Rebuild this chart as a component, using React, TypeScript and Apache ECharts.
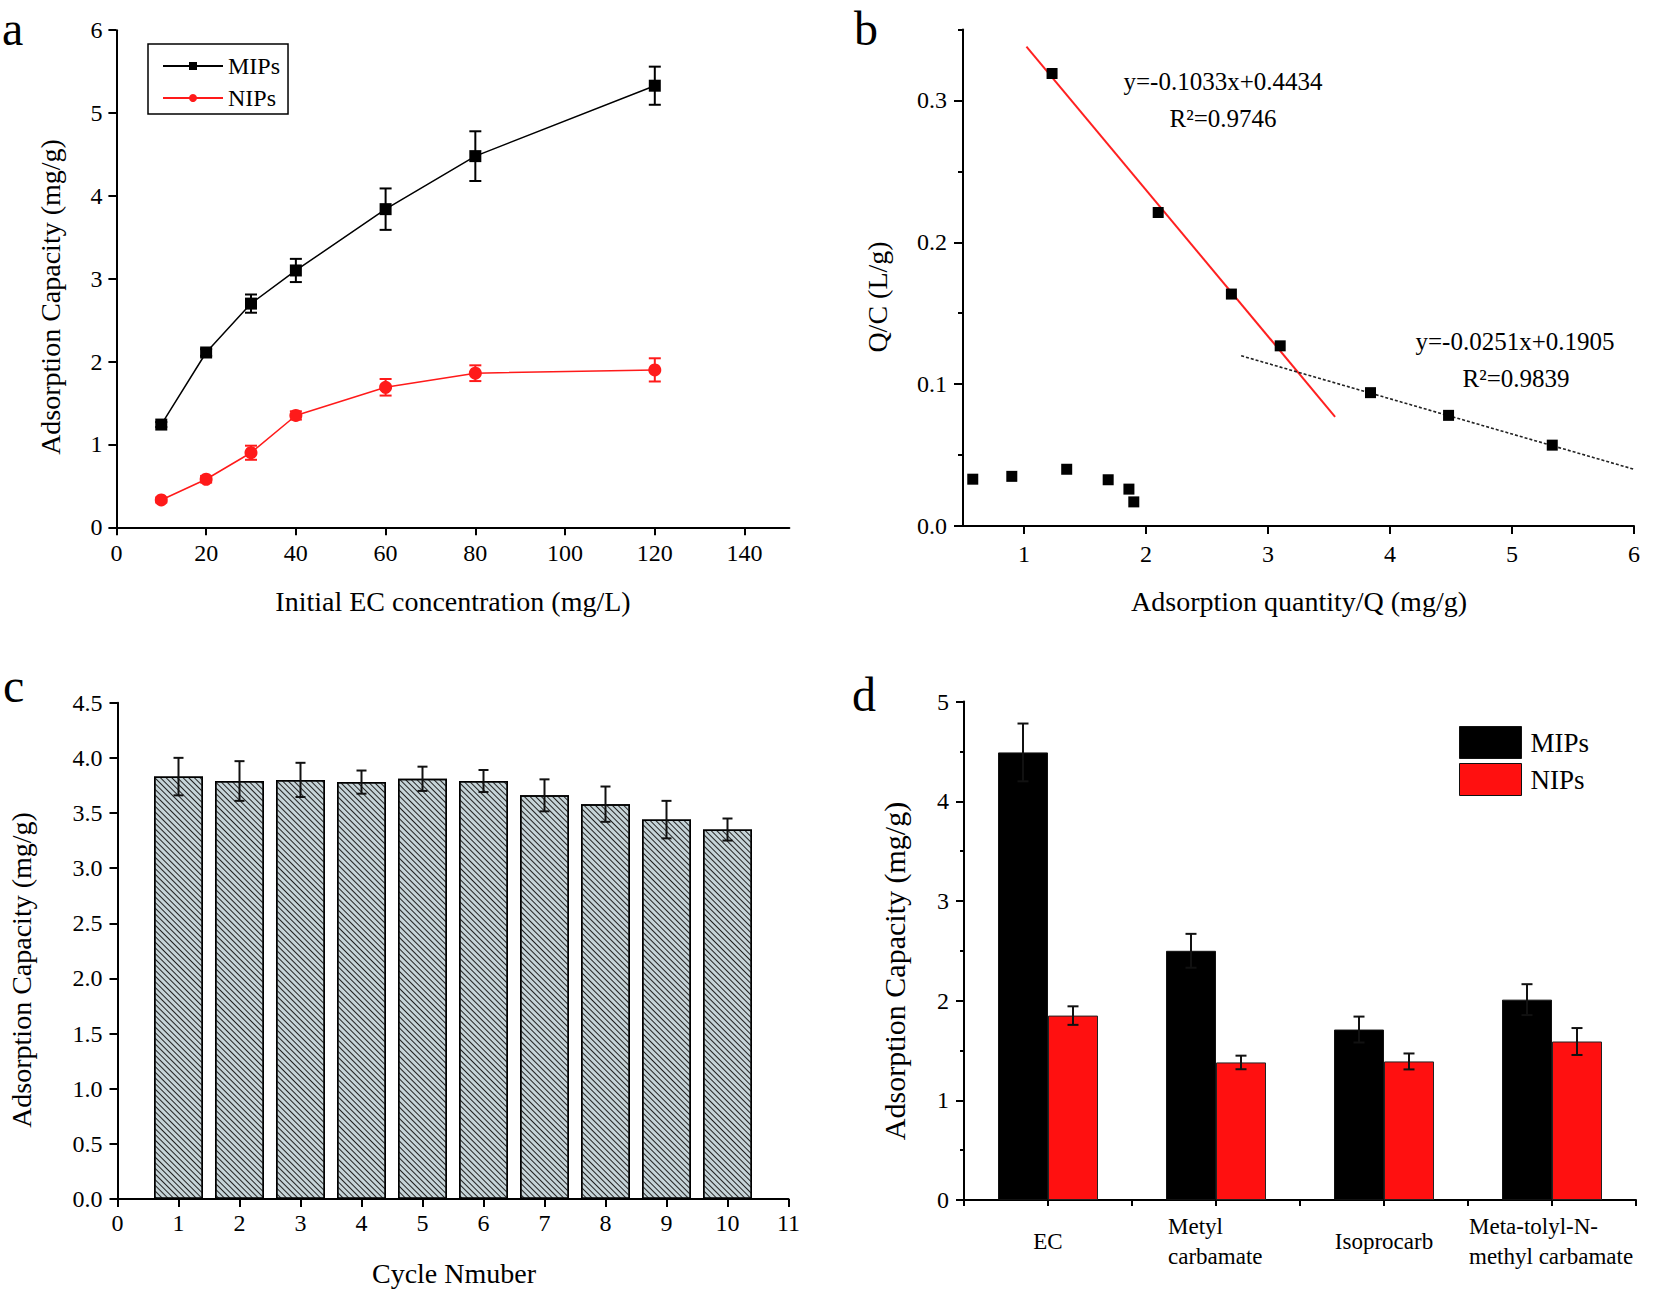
import React, { useEffect, useRef } from 'react';
import * as echarts from 'echarts';

const FONT = '"Liberation Serif", "Times New Roman", serif';

// ---------- Panel a ----------
const concX = [10, 20, 30, 40, 60, 80, 120];
const mipsCap = [1.24, 2.11, 2.7, 3.1, 3.84, 4.48, 5.33];
const mipsCapErr = [0.03, 0.04, 0.11, 0.14, 0.25, 0.3, 0.23];
const nipsCap = [0.33, 0.58, 0.9, 1.35, 1.69, 1.86, 1.9];
const nipsCapErr = [0.03, 0.04, 0.085, 0.05, 0.1, 0.095, 0.14];
const concTicks = [0, 20, 40, 60, 80, 100, 120, 140];

// ---------- Panel b ----------
const scatQ = [1.23, 2.1, 2.7, 3.1, 3.84, 4.48, 5.33, 0.58, 0.9, 1.35, 1.69, 1.86, 1.9];
const scatQC = [0.319, 0.221, 0.1635, 0.127, 0.094, 0.078, 0.057, 0.033, 0.035, 0.04, 0.0326, 0.026, 0.017];
const fitSteep = [[1.02, 0.338], [3.55, 0.077]];
const fitShallow = [[2.78, 0.12], [6.0, 0.04]];
const qTicks = [1, 2, 3, 4, 5, 6];
const qcMajorTicks = [0, 0.1, 0.2, 0.3];
const qcMinorTicks = [0.05, 0.15, 0.25, 0.35];

// ---------- Panel c ----------
const cycles = [1, 2, 3, 4, 5, 6, 7, 8, 9, 10];
const cycleCap = [3.83, 3.79, 3.8, 3.78, 3.81, 3.79, 3.66, 3.58, 3.44, 3.35];
const cycleErr = [0.17, 0.18, 0.155, 0.105, 0.11, 0.1, 0.145, 0.16, 0.17, 0.1];

// ---------- Panel d ----------
const compounds = ['EC', 'Metyl\ncarbamate', 'Isoprocarb', 'Meta-tolyl-N-\nmethyl carbamate'];
const mipsSel = [4.49, 2.5, 1.71, 2.01];
const mipsSelErr = [0.29, 0.17, 0.13, 0.155];
const nipsSel = [1.85, 1.38, 1.39, 1.59];
const nipsSelErr = [0.093, 0.068, 0.08, 0.135];

const BLACK = '#000';
const RED = '#ff1a1a';

function makeErrRender(color: string, capHalf: number, dx = 0) {
  return (_params: any, api: any) => {
    const x = api.value(0);
    const lo = api.value(1);
    const hi = api.value(2);
    const a = api.coord([x, lo]);
    const b = api.coord([x, hi]);
    const cx = a[0] + dx;
    const st = { stroke: color, lineWidth: 2 };
    return {
      type: 'group',
      children: [
        { type: 'line', shape: { x1: cx, y1: a[1], x2: cx, y2: b[1] }, style: st },
        { type: 'line', shape: { x1: cx - capHalf, y1: b[1], x2: cx + capHalf, y2: b[1] }, style: st },
        { type: 'line', shape: { x1: cx - capHalf, y1: a[1], x2: cx + capHalf, y2: a[1] }, style: st },
      ],
    };
  };
}

const axisLine = { show: true, onZero: false, lineStyle: { color: BLACK, width: 2 } };
const tick = (len: number, extra: any = {}) => ({ show: true, length: len, lineStyle: { color: BLACK, width: 2 }, ...extra });
const lab = (margin: number, extra: any = {}) => ({ fontSize: 24, color: BLACK, fontFamily: FONT, margin, ...extra });

function txt(text: string, x: number, y: number, fontSize: number, opts: any = {}) {
  return {
    type: 'text',
    x,
    y,
    rotation: opts.rotation || 0,
    style: {
      text,
      fontSize,
      fontFamily: FONT,
      fill: '#000',
      align: opts.align || 'center',
      verticalAlign: 'middle',
      textAlign: opts.align || 'center',
      textVerticalAlign: 'middle',
    },
  };
}

const catRich: any = {
  w1: { width: 96, align: 'left', fontSize: 23, lineHeight: 30, fontFamily: FONT, color: BLACK },
  w3: { width: 166, align: 'left', fontSize: 23, lineHeight: 30, fontFamily: FONT, color: BLACK },
};

export default function App() {
  const ref = useRef<HTMLDivElement>(null);
  useEffect(() => {
    if (!ref.current) return;
    const chart = echarts.init(ref.current, null, { renderer: 'svg' });
    const option: any = {
      animation: false,
      backgroundColor: '#fff',
      textStyle: { fontFamily: FONT },
      grid: [
        { left: 116.4, top: 30.2, width: 673, height: 497.1 },
        { left: 963, top: 29.5, width: 671, height: 496.5 },
        { left: 117.5, top: 702.7, width: 671, height: 496.3 },
        { left: 964, top: 701.6, width: 672, height: 498.4 },
      ],
      xAxis: [
        {
          gridIndex: 0, type: 'value', min: 0, max: 150, interval: 10,
          axisLine, axisTick: tick(8, { customValues: concTicks }),
          axisLabel: lab(14, { customValues: concTicks }), splitLine: { show: false },
        },
        {
          gridIndex: 1, type: 'value', min: 0.5, max: 6, interval: 0.5,
          axisLine, axisTick: tick(8, { customValues: qTicks }),
          axisLabel: lab(16, { customValues: qTicks }), splitLine: { show: false },
        },
        {
          gridIndex: 2, type: 'value', min: 0, max: 11, interval: 1,
          axisLine, axisTick: tick(8), axisLabel: lab(12), splitLine: { show: false },
        },
        {
          gridIndex: 3, type: 'category', data: compounds, position: 'bottom',
          axisLine, axisTick: tick(6, { interval: 0 }),
          axisLabel: lab(41, {
            interval: 0, fontSize: 23, lineHeight: 30, verticalAlign: 'middle',
            formatter: (v: string, idx: number) =>
              v.indexOf('\n') >= 0 ? v.split('\n').map((l) => `{w${idx}|${l}}`).join('\n') : v,
            rich: catRich,
          }),
          splitLine: { show: false },
        },
        {
          gridIndex: 3, type: 'category', data: compounds, position: 'bottom',
          axisLine: { show: false }, axisTick: tick(6, { interval: 0, alignWithLabel: true }),
          axisLabel: { show: false }, splitLine: { show: false },
        },
      ],
      yAxis: [
        {
          gridIndex: 0, type: 'value', min: 0, max: 6, interval: 1,
          axisLine, axisTick: tick(8), axisLabel: lab(14), splitLine: { show: false },
        },
        {
          gridIndex: 1, type: 'value', min: 0, max: 0.35, interval: 0.05, position: 'left',
          axisLine, axisTick: tick(9, { customValues: qcMajorTicks }),
          axisLabel: lab(16, { customValues: qcMajorTicks, formatter: (v: number) => v.toFixed(1) }),
          splitLine: { show: false },
        },
        {
          gridIndex: 1, type: 'value', min: 0, max: 0.35, interval: 0.05, position: 'left',
          axisLine: { show: false }, axisTick: tick(5, { customValues: qcMinorTicks }),
          axisLabel: { show: false }, splitLine: { show: false },
        },
        {
          gridIndex: 2, type: 'value', min: 0, max: 4.5, interval: 0.5,
          axisLine, axisTick: tick(8),
          axisLabel: lab(15, { formatter: (v: number) => v.toFixed(1) }), splitLine: { show: false },
        },
        {
          gridIndex: 3, type: 'value', min: 0, max: 5, interval: 1,
          axisLine, axisTick: tick(8),
          minorTick: { show: true, splitNumber: 2, length: 4, lineStyle: { color: BLACK, width: 2 } },
          axisLabel: lab(15), splitLine: { show: false }, minorSplitLine: { show: false },
        },
      ],
      legend: [
        {
          orient: 'vertical', left: 148, top: 44, data: ['MIPs', 'NIPs'],
          itemWidth: 60, itemHeight: 10, itemGap: 4, padding: [8, 8, 2, 14],
          borderColor: '#000', borderWidth: 1.5, selectedMode: false,
          textStyle: { fontSize: 24, lineHeight: 28, fontFamily: FONT, color: '#000' },
        },
        {
          orient: 'vertical', left: 1459, top: 726, data: ['MIPs (d)', 'NIPs (d)'],
          formatter: (n: string) => n.replace(' (d)', ''),
          icon: 'rect', itemWidth: 62, itemHeight: 32, itemGap: 4, padding: 0, selectedMode: false,
          itemStyle: { borderColor: '#111', borderWidth: 1 },
          textStyle: { fontSize: 27, lineHeight: 32, fontFamily: FONT, color: '#000', padding: [0, 0, 0, 4] },
        },
      ],
      series: [
        // Panel a
        {
          type: 'custom', name: 'errMIPsA', xAxisIndex: 0, yAxisIndex: 0, z: 2,
          renderItem: makeErrRender(BLACK, 6),
          data: concX.map((x, i) => [x, mipsCap[i] - mipsCapErr[i], mipsCap[i] + mipsCapErr[i]]),
        },
        {
          type: 'custom', name: 'errNIPsA', xAxisIndex: 0, yAxisIndex: 0, z: 2,
          renderItem: makeErrRender(RED, 6),
          data: concX.map((x, i) => [x, nipsCap[i] - nipsCapErr[i], nipsCap[i] + nipsCapErr[i]]),
        },
        {
          type: 'line', name: 'MIPs', xAxisIndex: 0, yAxisIndex: 0, z: 3,
          data: concX.map((x, i) => [x, mipsCap[i]]),
          symbol: 'rect', symbolSize: 12, itemStyle: { color: BLACK },
          lineStyle: { color: BLACK, width: 1.5 },
        },
        {
          type: 'line', name: 'NIPs', xAxisIndex: 0, yAxisIndex: 0, z: 3,
          data: concX.map((x, i) => [x, nipsCap[i]]),
          symbol: 'circle', symbolSize: 13, itemStyle: { color: RED },
          lineStyle: { color: RED, width: 1.5 },
        },
        // Panel b
        {
          type: 'line', name: 'fitSteep', xAxisIndex: 1, yAxisIndex: 1, data: fitSteep,
          symbol: 'none', lineStyle: { color: '#ff2020', width: 2 }, z: 2,
        },
        {
          type: 'line', name: 'fitShallow', xAxisIndex: 1, yAxisIndex: 1, data: fitShallow,
          symbol: 'none', lineStyle: { color: '#222', width: 1.6, type: [3, 2] }, z: 2,
        },
        {
          type: 'scatter', name: 'QC', xAxisIndex: 1, yAxisIndex: 1, z: 3,
          data: scatQ.map((q, i) => [q, scatQC[i]]),
          symbol: 'rect', symbolSize: 11, itemStyle: { color: BLACK, opacity: 1 },
        },
        // Panel c
        {
          type: 'bar', name: 'cycle', xAxisIndex: 2, yAxisIndex: 3, barWidth: 49,
          data: cycles.map((c, i) => [c, cycleCap[i]]),
          itemStyle: {
            color: '#c6d4d8', borderColor: BLACK, borderWidth: 1.5,
            decal: {
              symbol: 'rect', symbolSize: 1, color: '#222',
              dashArrayX: [1, 0], dashArrayY: [1, 2.2], rotation: Math.PI / 4,
            },
          },
        },
        {
          type: 'custom', name: 'errCycle', xAxisIndex: 2, yAxisIndex: 3, z: 5,
          renderItem: makeErrRender('#111', 5),
          data: cycles.map((c, i) => [c, cycleCap[i] - cycleErr[i], cycleCap[i] + cycleErr[i]]),
        },
        // Panel d
        {
          type: 'bar', name: 'MIPs (d)', xAxisIndex: 3, yAxisIndex: 4, barWidth: 50, barGap: '0%',
          data: mipsSel, itemStyle: { color: BLACK, borderColor: '#111', borderWidth: 1 },
        },
        {
          type: 'bar', name: 'NIPs (d)', xAxisIndex: 3, yAxisIndex: 4, barWidth: 50, barGap: '0%',
          data: nipsSel, itemStyle: { color: '#ff1010', borderColor: '#222', borderWidth: 1 },
        },
        {
          type: 'custom', name: 'errMIPsD', xAxisIndex: 3, yAxisIndex: 4, z: 5,
          renderItem: makeErrRender('#111', 5.5, -25),
          data: compounds.map((_c, i) => [i, mipsSel[i] - mipsSelErr[i], mipsSel[i] + mipsSelErr[i]]),
        },
        {
          type: 'custom', name: 'errNIPsD', xAxisIndex: 3, yAxisIndex: 4, z: 5,
          renderItem: makeErrRender('#111', 5.5, 25),
          data: compounds.map((_c, i) => [i, nipsSel[i] - nipsSelErr[i], nipsSel[i] + nipsSelErr[i]]),
        },
      ],
      graphic: [
        txt('a', 2, 28, 48, { align: 'left' }),
        txt('b', 854, 28, 48, { align: 'left' }),
        txt('c', 3, 685, 48, { align: 'left' }),
        txt('d', 852, 694, 48, { align: 'left' }),
        txt('Initial EC concentration (mg/L)', 453, 601, 28),
        txt('Adsorption Capacity (mg/g)', 50, 297, 28, { rotation: Math.PI / 2 }),
        txt('Adsorption quantity/Q (mg/g)', 1299, 601, 28),
        txt('Q/C (L/g)', 877, 297, 28, { rotation: Math.PI / 2 }),
        txt('Cycle Nmuber', 454, 1273, 28),
        txt('Adsorption Capacity (mg/g)', 21, 970, 28, { rotation: Math.PI / 2 }),
        txt('Adsorption Capacity (mg/g)', 894, 971, 30, { rotation: Math.PI / 2 }),
        txt('y=-0.1033x+0.4434', 1223, 81, 25),
        txt('R\u00B2=0.9746', 1223, 118, 25),
        txt('y=-0.0251x+0.1905', 1515, 341, 25),
        txt('R\u00B2=0.9839', 1516, 378, 25),
      ],
    };
    chart.setOption(option);
    return () => chart.dispose();
  }, []);
  return (
    <div
      ref={ref}
      style={{ position: 'absolute', left: 0, top: 0, width: 1654, height: 1293, background: '#fff' }}
    />
  );
}
